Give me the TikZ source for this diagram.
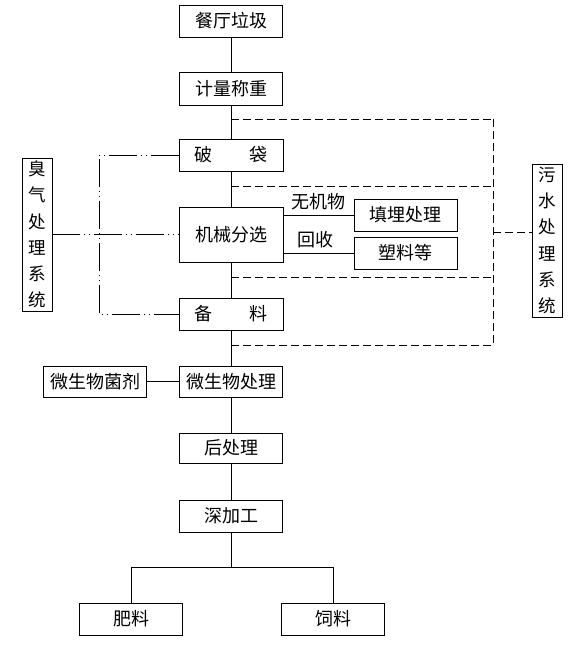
\documentclass[tikz,border=0pt]{standalone}
\usepackage{fontspec}
\newfontfamily\cjk{Noto Sans CJK SC}
\begin{document}
\begin{tikzpicture}[x=1pt,y=-1pt,
  box/.style={draw, line width=0.8pt, inner sep=0pt, font=\cjk\fontsize{18}{20}\selectfont, minimum width=103pt, minimum height=32pt},
  vbox/.style={draw, line width=0.8pt, inner sep=0pt, align=center, font=\cjk\fontsize{17.5}{26.3}\selectfont, minimum width=30pt, minimum height=153pt},
  lbl/.style={inner sep=0pt, font=\cjk\fontsize{18}{20}\selectfont},
  conn/.style={line width=0.8pt},
  dsh/.style={line width=0.8pt, dash pattern=on 8pt off 4pt},
  dd/.style={line width=0.8pt, dash pattern=on 28pt off 4pt on 1pt off 4pt on 1pt off 4pt}]
\useasboundingbox (0,0) rectangle (576,661);
% main column
\node[box] (a) at (231,21) {餐厅垃圾};
\node[box, minimum height=33pt] (b) at (231,88.5) {计量称重};
\node[box, minimum width=104pt] (c) at (231,155) {破\hspace{2.1em}袋};
\node[box, minimum width=104pt, minimum height=55pt] (d) at (231,234.5) {机械分选};
\node[box, minimum width=104pt] (e) at (231,314) {备\hspace{2.1em}料};
\node[box, minimum height=31pt] (f) at (231,381.5) {微生物处理};
\node[box, minimum height=31pt] (g) at (95,381.5) {微生物菌剂};
\node[box, minimum height=30pt] (h) at (231,448) {后处理};
\node[box] (i) at (231,516) {深加工};
\node[box] (j) at (131,619) {肥料};
\node[box] (k) at (333,619) {饲料};
\node[box] (l) at (405.5,215) {填埋处理};
\node[box] (m) at (405.5,253) {塑料等};
\node[vbox] (n) at (37,234.5) {臭\\气\\处\\理\\系\\统};
\node[vbox] (o) at (547,240.5) {污\\水\\处\\理\\系\\统};
\node[lbl] (t1) at (318,202) {无机物};
\node[lbl] (t2) at (315,240) {回收};
% main connectors
\draw[conn] (a) -- (b);
\draw[conn] (b) -- (c);
\draw[conn] (c) -- (d);
\draw[conn] (d) -- (e);
\draw[conn] (e) -- (f);
\draw[conn] (f) -- (h);
\draw[conn] (h) -- (i);
\draw[conn] (g) -- (f);
\coordinate (br) at (231,567);
\coordinate (bl) at (131,567);
\coordinate (brr) at (333,567);
\draw[conn] (i) -- (br);
\draw[conn] (bl) -- (brr);
\draw[conn] (bl) -- (j);
\draw[conn] (brr) -- (k);
\draw[conn] (d.east |- l) -- (l.west);
\draw[conn] (d.east |- m) -- (m.west);
% dashed sewage lines
\coordinate (s1) at (231,119); \coordinate (r1) at (493,119);
\coordinate (s2) at (231,186); \coordinate (r2) at (493,186);
\coordinate (s3) at (231,277); \coordinate (r3) at (493,277);
\coordinate (s4) at (231,345); \coordinate (r4) at (493,345);
\coordinate (rm) at (493,232);
\draw[dsh] (s1) -- (r1);
\draw[dsh] (s2) -- (r2);
\draw[dsh] (s3) -- (r3);
\draw[dsh] (s4) -- (r4);
\draw[dsh] (r1) -- (r4);
\draw[dsh] (rm) -- (o.west |- rm);
% dash-dot odour lines
\coordinate (q1) at (99,155);
\coordinate (q2) at (99,234.5);
\coordinate (q3) at (99,314);
\draw[dd] (c.west) -- (q1) -- (q3) -- (e.west);
\draw[dd] (n.east) -- (d.west);
\end{tikzpicture}
\end{document}
